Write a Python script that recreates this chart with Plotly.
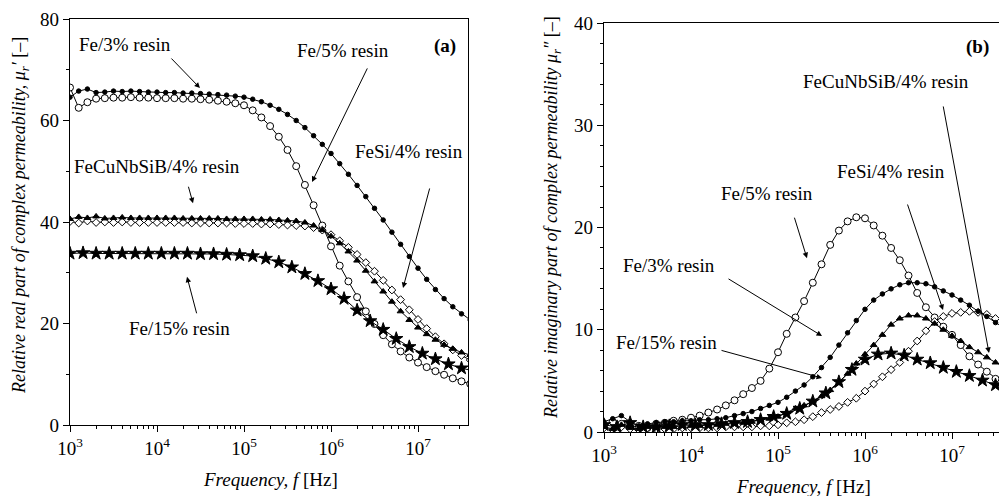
import plotly.graph_objects as go

# ---------------- data ----------------
# log10 of frequency grid (Hz) for most series
log_f = [3.0, 3.1, 3.2, 3.3, 3.4, 3.5, 3.6, 3.7, 3.8, 3.9,
         4.0, 4.1, 4.2, 4.3, 4.4, 4.5, 4.6, 4.7, 4.8, 4.9,
         5.0, 5.1, 5.2, 5.3, 5.4, 5.5, 5.6, 5.7, 5.8, 5.9,
         6.0, 6.1, 6.2, 6.3, 6.4, 6.5, 6.6, 6.7, 6.8, 6.9,
         7.0, 7.1, 7.2, 7.3, 7.4, 7.5, 7.6]
# coarser grid used for the star-marked series
log_f_star = [3.0, 3.15, 3.3, 3.45, 3.6, 3.75, 3.9, 4.05, 4.2, 4.35,
              4.5, 4.65, 4.8, 4.95, 5.1, 5.25, 5.4, 5.55, 5.7, 5.85,
              6.0, 6.15, 6.3, 6.45, 6.6, 6.75, 6.9, 7.05, 7.2, 7.35,
              7.5, 7.65]

# (a) real part mu'
re_fe3 = [64.6, 65.8, 66.2, 65.5, 65.6, 65.8, 65.7, 65.8, 65.7, 65.6,
          65.6, 65.5, 65.5, 65.4, 65.4, 65.3, 65.2, 65.1, 65.0, 64.8,
          64.6, 64.2, 63.7, 63.0, 62.2, 61.2, 60.0, 58.6, 57.0, 55.3,
          53.5, 51.5, 49.4, 47.2, 45.0, 42.7, 40.4, 38.0, 35.6, 33.2,
          30.9, 28.7, 26.7, 24.9, 23.3, 21.9, 20.7]
re_fe5 = [66.5, 62.5, 63.6, 64.3, 64.4, 64.5, 64.5, 64.6, 64.5, 64.5,
          64.4, 64.4, 64.4, 64.3, 64.3, 64.2, 64.1, 63.9, 63.7, 63.4,
          63.0, 62.0, 60.6, 58.9, 56.8, 54.2, 51.0, 47.3, 43.3, 39.3,
          35.2, 31.4, 28.3, 25.2, 22.4, 19.9, 17.7, 15.9, 14.5, 13.3,
          12.3, 11.4, 10.6, 9.9, 9.2, 8.6, 8.1]
re_fesi = [40.1, 39.8, 40.2, 39.9, 40.0, 39.9, 40.0, 39.9, 39.9, 39.9,
           39.9, 39.9, 39.9, 39.9, 39.8, 39.8, 39.8, 39.8, 39.8, 39.7,
           39.7, 39.7, 39.6, 39.6, 39.5, 39.4, 39.3, 39.2, 38.9, 38.4,
           37.5, 36.3, 35.0, 33.6, 32.0, 30.3, 28.5, 26.6, 24.7, 22.7,
           20.8, 19.0, 17.4, 16.0, 14.8, 13.7, 12.8]
re_fecu = [40.6, 41.0, 40.8, 41.1, 40.7, 40.8, 40.9, 40.8, 40.8, 40.8,
           40.8, 40.8, 40.8, 40.7, 40.7, 40.7, 40.7, 40.7, 40.6, 40.6,
           40.6, 40.6, 40.5, 40.5, 40.4, 40.3, 40.2, 39.9, 39.3, 38.4,
           37.2, 35.8, 34.2, 32.4, 30.4, 28.3, 26.3, 24.3, 22.4, 20.7,
           19.2, 17.9, 16.8, 15.8, 15.0, 14.3, 13.8]
re_fe15 = [33.8, 33.9, 33.8, 33.8, 33.8, 33.8, 33.8, 33.8, 33.8, 33.8,
           33.7, 33.7, 33.6, 33.5, 33.3, 32.8, 32.1, 31.1, 29.8, 28.4,
           26.8, 24.9, 22.6, 20.5, 18.8, 17.0, 15.4, 14.1, 13.0, 12.0,
           11.2, 10.6]

# (b) imaginary part mu''
im_fe3 = [1.0, 1.3, 1.6, 1.0, 0.6, 0.8, 0.9, 1.0, 1.0, 1.1,
          1.1, 1.2, 1.2, 1.3, 1.4, 1.6, 1.8, 2.0, 2.3, 2.6,
          2.9, 3.4, 4.0, 4.6, 5.4, 6.3, 7.3, 8.5, 9.7, 10.9,
          12.0, 12.9, 13.5, 14.0, 14.4, 14.6, 14.6, 14.5, 14.2, 13.8,
          13.4, 12.9, 12.4, 11.8, 11.3, 10.7, 10.2]
im_fe5 = [0.6, 1.0, 0.8, 0.5, 0.6, 0.4, 0.8, 0.9, 1.1, 1.2,
          1.4, 1.6, 1.9, 2.2, 2.6, 3.1, 3.7, 4.3, 5.0, 6.2,
          7.8, 9.6, 11.2, 12.8, 14.6, 16.4, 18.3, 19.7, 20.6, 21.0,
          20.9, 20.2, 19.2, 18.0, 16.8, 15.3, 13.6, 12.2, 11.2, 10.3,
          9.5, 8.5, 7.4, 6.6, 5.9, 5.2, 4.6]
im_fesi = [0.4, 0.2, 0.5, 0.3, 0.2, 0.4, 0.3, 0.3, 0.3, 0.4,
           0.4, 0.4, 0.4, 0.4, 0.5, 0.5, 0.5, 0.5, 0.6, 0.6,
           0.7, 0.9, 1.0, 1.2, 1.5, 1.9, 2.2, 2.5, 2.9, 3.3,
           4.0, 4.7, 5.4, 6.1, 6.8, 7.9, 8.9, 9.9, 10.8, 11.3,
           11.6, 11.7, 11.8, 11.7, 11.5, 11.1, 10.8]
im_fecu = [0.5, 0.3, 0.7, 0.4, 0.3, 0.5, 0.4, 0.5, 0.5, 0.6,
           0.6, 0.6, 0.7, 0.7, 0.8, 0.8, 0.9, 1.0, 1.2, 1.3,
           1.5, 1.9, 2.3, 2.6, 3.0, 3.5, 4.1, 4.8, 5.7, 6.7,
           7.6, 8.5, 9.5, 10.5, 11.1, 11.4, 11.4, 11.1, 10.6, 10.0,
           9.4, 8.9, 8.3, 7.8, 7.3, 6.8, 6.4]
im_fe15 = [0.7, 0.5, 0.9, 0.5, 0.5, 0.6, 0.7, 0.7, 0.7, 0.8,
           0.9, 1.0, 1.2, 1.5, 1.8, 2.3, 3.0, 3.8, 4.9, 6.1,
           7.1, 7.6, 7.7, 7.5, 7.1, 6.75, 6.3, 5.9, 5.5, 5.05,
           4.6, 4.3]

major_ticks = [1e3, 1e4, 1e5, 1e6, 1e7]
major_text = ["10<sup>3</sup>", "10<sup>4</sup>", "10<sup>5</sup>",
              "10<sup>6</sup>", "10<sup>7</sup>"]

# ---------------- figure ----------------
FONT = "Liberation Serif"
W, H = 999, 496
freq = [10 ** v for v in log_f]
freq_star = [10 ** v for v in log_f_star]

fig = go.Figure()

def add(x, y, xa, ya, symbol, size, fill="black", lw=1.0):
    fig.add_trace(go.Scatter(
        x=x, y=y, xaxis=xa, yaxis=ya, mode="lines+markers",
        line=dict(color="black", width=lw),
        marker=dict(symbol=symbol, size=size, color=fill,
                    line=dict(color="black", width=1)),
        showlegend=False, cliponaxis=True))

# panel (a)
add(freq, re_fe5, "x", "y", "circle", 7, fill="white")
add(freq, re_fesi, "x", "y", "diamond", 6, fill="white")
add(freq, re_fecu, "x", "y", "triangle-up", 6)
add(freq_star, re_fe15, "x", "y", "star", 10)
add(freq, re_fe3, "x", "y", "circle", 4.5)
# panel (b)
add(freq, im_fe5, "x2", "y2", "circle", 7, fill="white")
add(freq, im_fesi, "x2", "y2", "diamond", 6, fill="white")
add(freq, im_fecu, "x2", "y2", "triangle-up", 6)
add(freq_star, im_fe15, "x2", "y2", "star", 10)
add(freq, im_fe3, "x2", "y2", "circle", 4.5)

minor_vals = [m * 10 ** d for d in range(3, 8) for m in range(2, 10)]
TICKFONT = dict(family=FONT, size=19, color="black")

def xaxis_cfg(domain, rng):
    return dict(type="log", domain=domain, range=rng, automargin=False,
                tickmode="array", tickvals=major_ticks, ticktext=major_text,
                ticks="outside", ticklen=6, tickwidth=1.2, tickcolor="black",
                minor=dict(tickmode="array", tickvals=minor_vals, ticks="outside",
                           ticklen=3, tickwidth=1, tickcolor="black", showgrid=False),
                showline=True, linecolor="black", linewidth=1.3, mirror=True,
                showgrid=False, zeroline=False, tickfont=TICKFONT)

def yaxis_cfg(domain, rng, dtick, mdtick, mirror):
    return dict(domain=domain, range=rng, automargin=False,
                tickmode="linear", tick0=0, dtick=dtick,
                ticks="outside", ticklen=6, tickwidth=1.2, tickcolor="black",
                minor=dict(dtick=mdtick, tick0=0, ticks="outside", ticklen=3,
                           tickwidth=1, tickcolor="black", showgrid=False),
                showline=True, linecolor="black", linewidth=1.3, mirror=mirror,
                showgrid=False, zeroline=False, tickfont=TICKFONT)

xa = xaxis_cfg([70 / W, 468 / W], [3, 3 + 398 / 87])
xa["anchor"] = "y"
xb = xaxis_cfg([604 / W, 1.0], [3, 3 + 395 / 87])
xb["anchor"] = "y2"
ya = yaxis_cfg([1 - 425 / H, 1 - 19 / H], [0, 80], 20, 10, True)
ya["anchor"] = "x"
yb = yaxis_cfg([1 - 432 / H, 1 - 23 / H], [0, 40], 10, 2, False)
yb["anchor"] = "x2"

fig.update_layout(
    template="none",
    width=W, height=H, margin=dict(l=0, r=0, t=0, b=0, pad=0),
    paper_bgcolor="white", plot_bgcolor="white",
    xaxis=xa, yaxis=ya, xaxis2=xb, yaxis2=yb,
    font=dict(family=FONT, size=19, color="black"),
)

LABEL = 19

def text(px, py, s, size=LABEL, bold=False):
    fig.add_annotation(x=px / W, y=1 - py / H, xref="paper", yref="paper",
                       text=("<b>%s</b>" % s) if bold else s, showarrow=False,
                       xanchor="center", yanchor="middle",
                       font=dict(family=FONT, size=size, color="black"))

def arrow(xref, yref, lx, yv, ax, ay):
    fig.add_annotation(x=lx, y=yv, xref=xref, yref=yref, text="",
                       showarrow=True, arrowhead=2, arrowsize=1.1, arrowwidth=1,
                       arrowcolor="black", ax=ax, ay=ay)

# panel (a) labels
text(125, 45, "Fe/3% resin")
text(343, 50, "Fe/5% resin")
text(409, 151, "FeSi/4% resin")
text(157, 166, "FeCuNbSiB/4% resin")
text(179, 328, "Fe/15% resin")
text(445, 46, "(a)", bold=True)
arrow("x", "y", 4.494, 66.4, -30, -31)
arrow("x", "y", 5.782, 47.9, 56, -115)
arrow("x", "y", 6.828, 27.0, 27, -101)
arrow("x", "y", 4.414, 43.7, -5, -18)
arrow("x", "y", 4.345, 29.2, 10, 38)

# panel (b) labels
text(977, 47, "(b)", bold=True)
text(886, 82, "FeCuNbSiB/4% resin")
text(891, 171, "FeSi/4% resin")
text(767, 193, "Fe/5% resin")
text(669, 265, "Fe/3% resin")
text(666, 342, "Fe/15% resin")
arrow("x2", "y2", 7.425, 7.73, -46, -248)
arrow("x2", "y2", 6.897, 11.93, -36, -107)
arrow("x2", "y2", 5.333, 17.0, -13, -42)
arrow("x2", "y2", 5.506, 9.39, -95, -58)
arrow("x2", "y2", 5.506, 5.28, -102, -28)

# axis titles
fig.add_annotation(x=20 / W, y=1 - 216 / H, xref="paper", yref="paper",
                   text="<i>Relative real part of complex permeability, μ</i><sub><i>r</i></sub><i>′</i> [–]",
                   showarrow=False, textangle=-90, xanchor="center", yanchor="middle",
                   font=dict(family=FONT, size=18, color="black"))
fig.add_annotation(x=553 / W, y=1 - 218 / H, xref="paper", yref="paper",
                   text="<i>Relative imaginary part of complex permeability μ</i><sub><i>r</i></sub><i>″</i> [–]",
                   showarrow=False, textangle=-90, xanchor="center", yanchor="middle",
                   font=dict(family=FONT, size=18, color="black"))
fig.add_annotation(x=270 / W, y=1 - 479 / H, xref="paper", yref="paper",
                   text="<i>Frequency, f</i> [Hz]", showarrow=False,
                   xanchor="center", yanchor="middle",
                   font=dict(family=FONT, size=19, color="black"))
fig.add_annotation(x=803 / W, y=1 - 486 / H, xref="paper", yref="paper",
                   text="<i>Frequency, f</i> [Hz]", showarrow=False,
                   xanchor="center", yanchor="middle",
                   font=dict(family=FONT, size=19, color="black"))

fig.write_html(
    "out.html",
    config={"displayModeBar": False},
    post_script="document.body.style.margin='0';document.body.style.overflow='hidden';",
)
